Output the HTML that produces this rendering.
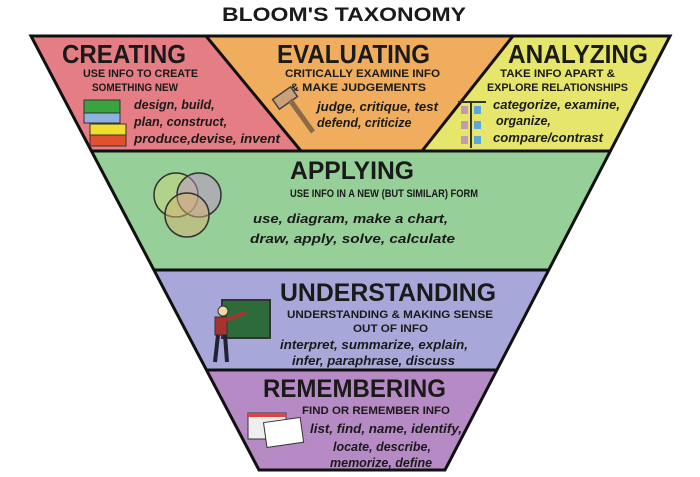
<!DOCTYPE html>
<html><head><meta charset="utf-8"><style>
html,body{margin:0;padding:0;background:#fff;width:700px;height:477px;overflow:hidden}
svg{display:block}
text{font-family:"Liberation Sans",sans-serif;fill:#1a1a1a}
.h{font-weight:bold}
.s{font-weight:bold;font-size:11px}
.i{font-style:italic;font-weight:bold;font-size:12.5px}
</style></head><body>
<svg width="700" height="477" viewBox="0 0 700 477">
<text x="344" y="21" class="h" font-size="19" text-anchor="middle" textLength="244" lengthAdjust="spacingAndGlyphs">BLOOM'S TAXONOMY</text>
<!-- bands -->
<polygon points="31,36 206,36 301,151 91,151" fill="#e47d84"/>
<polygon points="206,36 513,36 422,151 301,151" fill="#efad5d"/>
<polygon points="513,36 670,36 611,151 422,151" fill="#e6e66c"/>
<polygon points="91,151 611,151 549,270 154,270" fill="#96cf98"/>
<polygon points="154,270 549,270 497,370 207,370" fill="#a7a7d9"/>
<polygon points="207,370 497,370 445,470 259,470" fill="#b68bc5"/>
<g stroke="#111" stroke-width="3" fill="none">
<polygon points="31,36 670,36 445,470 259,470"/>
<line x1="206" y1="36" x2="301" y2="151"/>
<line x1="513" y1="36" x2="422" y2="151"/>
<line x1="91" y1="151" x2="611" y2="151"/>
<line x1="154" y1="270" x2="549" y2="270"/>
<line x1="207" y1="370" x2="497" y2="370"/>
</g>
<!-- creating -->
<text x="62" y="63" class="h" font-size="26" textLength="124" lengthAdjust="spacingAndGlyphs">CREATING</text>
<text x="83" y="77" class="s" textLength="115" lengthAdjust="spacingAndGlyphs">USE INFO TO CREATE</text>
<text x="92" y="91" class="s" textLength="86" lengthAdjust="spacingAndGlyphs">SOMETHING NEW</text>
<text x="134" y="109" class="i">design, build,</text>
<text x="134" y="126" class="i">plan, construct,</text>
<text x="134" y="143" class="i" textLength="146" lengthAdjust="spacingAndGlyphs">produce,devise, invent</text>
<rect x="84" y="100" width="36" height="13" fill="#3aa33f" stroke="#333"/>
<rect x="84" y="113" width="36" height="10" fill="#8fb1e0" stroke="#333"/>
<rect x="90" y="124" width="36" height="11" fill="#f2dc2c" stroke="#333"/>
<rect x="90" y="135" width="36" height="11" fill="#e2502f" stroke="#333"/>
<!-- evaluating -->
<text x="277" y="63" class="h" font-size="26" textLength="153" lengthAdjust="spacingAndGlyphs">EVALUATING</text>
<text x="285" y="77" class="s" textLength="155" lengthAdjust="spacingAndGlyphs">CRITICALLY EXAMINE INFO</text>
<text x="290" y="91" class="s" textLength="136" lengthAdjust="spacingAndGlyphs">&amp; MAKE JUDGEMENTS</text>
<text x="317" y="111" class="i" textLength="121" lengthAdjust="spacingAndGlyphs">judge, critique, test</text>
<text x="317" y="127" class="i">defend, criticize</text>
<g stroke="#444" stroke-width="1.5" fill="#c9a27a">
<rect x="274" y="92" width="22" height="12" transform="rotate(-35 285 98)"/>
<line x1="290" y1="100" x2="313" y2="132" stroke-width="5" stroke="#8b6a4a"/>
</g>
<!-- analyzing -->
<text x="508" y="63" class="h" font-size="26" textLength="140" lengthAdjust="spacingAndGlyphs">ANALYZING</text>
<text x="500" y="77" class="s" textLength="115" lengthAdjust="spacingAndGlyphs">TAKE INFO APART &amp;</text>
<text x="487" y="91" class="s" textLength="141" lengthAdjust="spacingAndGlyphs">EXPLORE RELATIONSHIPS</text>
<text x="493" y="109" class="i" textLength="127" lengthAdjust="spacingAndGlyphs">categorize, examine,</text>
<text x="496" y="125" class="i">organize,</text>
<text x="493" y="142" class="i" textLength="110" lengthAdjust="spacingAndGlyphs">compare/contrast</text>
<line x1="458" y1="102" x2="486" y2="102" stroke="#333" stroke-width="2"/>
<line x1="471" y1="102" x2="471" y2="148" stroke="#333" stroke-width="2"/>
<g fill="#c19bb0"><rect x="461" y="106" width="7" height="8"/><rect x="461" y="121" width="7" height="8"/><rect x="461" y="136" width="7" height="8"/></g>
<g fill="#5aa9d8"><rect x="474" y="106" width="7" height="8"/><rect x="474" y="121" width="7" height="8"/><rect x="474" y="136" width="7" height="8"/></g>
<!-- applying -->
<text x="290" y="179" class="h" font-size="25" textLength="124" lengthAdjust="spacingAndGlyphs">APPLYING</text>
<text x="290" y="197" class="s" textLength="188" lengthAdjust="spacingAndGlyphs">USE INFO IN A NEW (BUT SIMILAR) FORM</text>
<text x="253" y="223" font-size="13" font-weight="bold" font-style="italic" textLength="195" lengthAdjust="spacingAndGlyphs">use, diagram, make a chart,</text>
<text x="250" y="243" font-size="13" font-weight="bold" font-style="italic" textLength="205" lengthAdjust="spacingAndGlyphs">draw, apply, solve, calculate</text>
<g stroke="#333" stroke-width="1.5" fill-opacity="0.5">
<circle cx="176" cy="195" r="22" fill="#c9d77a"/>
<circle cx="199" cy="195" r="22" fill="#c090c8"/>
<circle cx="187" cy="215" r="22" fill="#d7b36f"/>
</g>
<!-- understanding -->
<text x="280" y="301" class="h" font-size="25" textLength="216" lengthAdjust="spacingAndGlyphs">UNDERSTANDING</text>
<text x="287" y="318" class="s" textLength="206" lengthAdjust="spacingAndGlyphs">UNDERSTANDING &amp; MAKING SENSE</text>
<text x="353" y="332" class="s" textLength="75" lengthAdjust="spacingAndGlyphs">OUT OF INFO</text>
<text x="280" y="349" class="i" font-size="13" textLength="188" lengthAdjust="spacingAndGlyphs">interpret, summarize, explain,</text>
<text x="292" y="365" class="i" font-size="13" textLength="163" lengthAdjust="spacingAndGlyphs">infer, paraphrase, discuss</text>
<rect x="222" y="300" width="48" height="38" fill="#2e6b3b" stroke="#333" stroke-width="2"/>
<circle cx="223" cy="311" r="5" fill="#f1d9a0" stroke="#333"/>
<rect x="215" y="317" width="12" height="18" fill="#a8332e" stroke="#333"/>
<line x1="225" y1="320" x2="245" y2="313" stroke="#a8332e" stroke-width="4"/>
<line x1="218" y1="335" x2="215" y2="362" stroke="#223" stroke-width="4"/>
<line x1="225" y1="335" x2="227" y2="362" stroke="#223" stroke-width="4"/>
<!-- remembering -->
<text x="263" y="397" class="h" font-size="25" textLength="183" lengthAdjust="spacingAndGlyphs">REMEMBERING</text>
<text x="302" y="414" class="s" textLength="148" lengthAdjust="spacingAndGlyphs">FIND OR REMEMBER INFO</text>
<text x="310" y="433" class="i" textLength="152" lengthAdjust="spacingAndGlyphs">list, find, name, identify,</text>
<text x="333" y="451" class="i">locate, describe,</text>
<text x="330" y="467" class="i">memorize, define</text>
<rect x="248" y="413" width="38" height="26" fill="#eee" stroke="#333"/>
<rect x="248" y="413" width="38" height="4" fill="#d44"/>
<rect x="265" y="420" width="37" height="25" fill="#fff" stroke="#333" transform="rotate(-8 283 432)"/>
</svg>
</body></html>
